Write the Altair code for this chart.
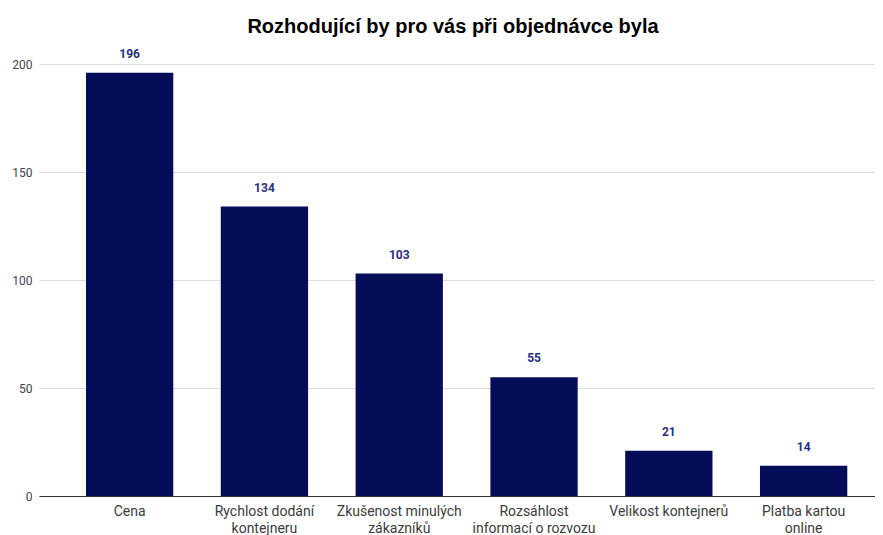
import altair as alt
import pandas as pd

categories = [
    "Cena",
    "Rychlost dodání|kontejneru",
    "Zkušenost minulých|zákazníků",
    "Rozsáhlost|informací o rozvozu",
    "Velikost kontejnerů",
    "Platba kartou|online",
]
values = [196, 134, 103, 55, 21, 14]
y_ticks = [0, 50, 100, 150, 200]
title_text = "Rozhodující by pro vás při objednávce byla"

df = pd.DataFrame({"kategorie": categories, "pocet": values})
title_df = pd.DataFrame({"t": [title_text]})

x_enc = alt.X(
    "kategorie:N",
    sort=categories,
    title=None,
    scale=alt.Scale(paddingInner=0.3524, paddingOuter=0.2771, align=0.629),
    axis=alt.Axis(
        labelAngle=0,
        labelExpr="split(datum.label, '|')",
        labelFont="Roboto",
        labelFontSize=14,
        labelFontWeight="normal",
        labelColor="#3c3c3c",
        labelPadding=8,
        labelLineHeight=17,
        ticks=False,
        domain=True,
        domainColor="#333333",
        domainWidth=1,
        grid=False,
    ),
)

bars = alt.Chart(df).mark_bar(color="#050d58").encode(
    x=x_enc,
    y=alt.Y(
        "pocet:Q",
        title=None,
        scale=alt.Scale(domain=[0, 200], nice=False),
        axis=alt.Axis(
            values=y_ticks,
            labelFont="Roboto",
            labelFontSize=12,
            labelColor="#444444",
            labelPadding=7,
            ticks=False,
            domain=False,
            grid=True,
            gridColor="#dcdcdc",
            gridWidth=1,
        ),
    ),
)

labels = alt.Chart(df).mark_text(
    font="Roboto",
    fontSize=12,
    fontWeight="bold",
    color="#283080",
    baseline="alphabetic",
    dy=-15,
).encode(
    x=alt.X("kategorie:N", sort=categories),
    y=alt.Y("pocet:Q"),
    text=alt.Text("pocet:Q"),
)

title_mark = alt.Chart(title_df).mark_text(
    font="Liberation Sans",
    fontSize=20,
    fontWeight="bold",
    color="#000000",
    align="center",
    baseline="alphabetic",
).encode(
    x=alt.value(414),
    y=alt.value(-31),
    text="t:N",
)

chart = (
    alt.layer(bars, labels, title_mark)
    .properties(
        width=836,
        height=432,
        autosize=alt.AutoSizeParams(type="none"),
        padding={"left": 31, "top": 56, "right": 0, "bottom": 39},
    )
    .configure_view(stroke=None)
)

chart.save("out.html", embed_options={"renderer": "svg", "actions": False})
